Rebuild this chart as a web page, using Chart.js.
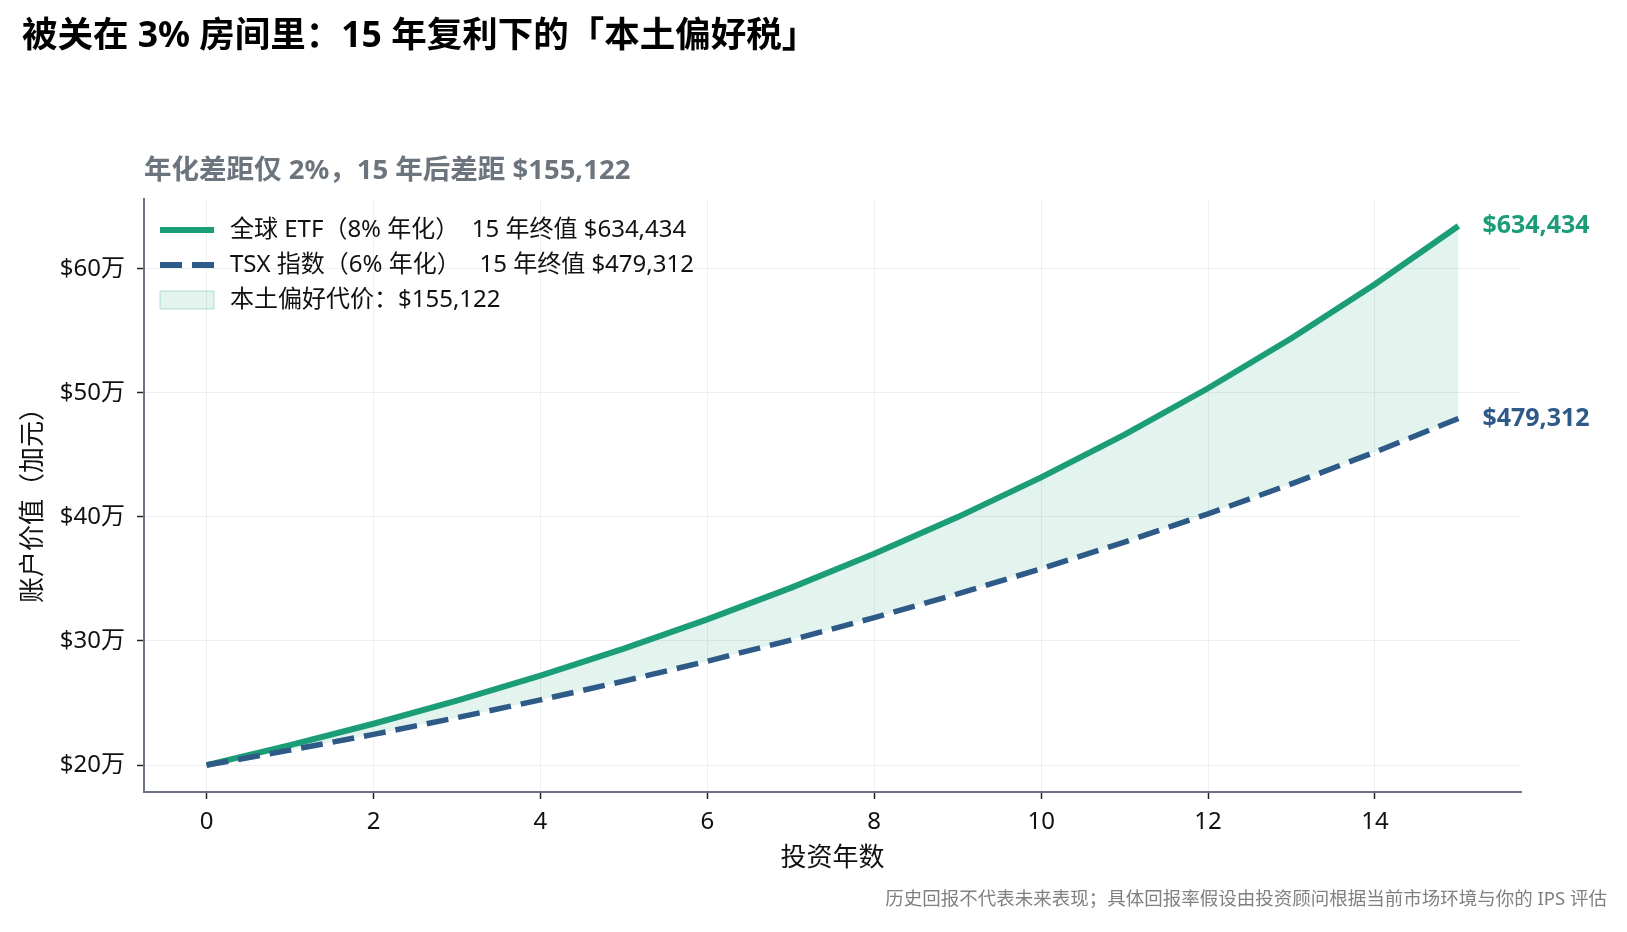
<!DOCTYPE html>
<html>
<head>
<meta charset="utf-8">
<script src="https://cdn.jsdelivr.net/npm/chart.js"></script>
<style>
  body { margin: 0; background: #fff; }
  #wrap { width: 1627px; height: 932px; }
</style>
</head>
<body>
<div id="wrap"><canvas id="chart" width="1627" height="932"></canvas></div>
<script>
// years invested and account value (CAD), start 200,000
const years = [0, 1, 2, 3, 4, 5, 6, 7, 8, 9, 10, 11, 12, 13, 14, 15];
const globalEtf = [200000, 216000, 233280, 251942.4, 272097.8, 293865.6, 317374.9, 342764.9,
  370186.0, 399800.9, 431785.0, 466327.8, 503634.0, 543924.7, 587438.7, 634433.8];
const tsxIndex = [200000, 212000, 224720, 238203.2, 252495.4, 267645.1, 283703.8, 300726.1,
  318769.6, 337895.8, 358169.5, 379659.7, 402439.3, 426585.7, 452180.8, 479311.6];
const xTicks = [0, 2, 4, 6, 8, 10, 12, 14];
const yTicks = [200000, 300000, 400000, 500000, 600000];

const seriesLabels = ['全球 ETF（8% 年化）  15 年终值 $634,434', 'TSX 指数（6% 年化）   15 年终值 $479,312'];
const gapLabel = '本土偏好代价：$155,122';

const GREEN = '#1b9e77';
const BLUE = '#2e5a87';
const FILL = 'rgba(27,158,119,0.12)';
const FONT = '"Noto Sans", "Noto Sans CJK SC", sans-serif';

const fmt = v => '$' + Math.round(v).toLocaleString('en-US');

// white background + all the extra text (title, subtitle, legend, end labels, axis titles)
const decor = {
  id: 'decor',
  beforeDraw(chart) {
    const ctx = chart.ctx;
    ctx.save();
    ctx.fillStyle = '#fff';
    ctx.fillRect(0, 0, chart.width, chart.height);
    ctx.restore();
  },
  afterDraw(chart) {
    const ctx = chart.ctx;
    const area = chart.chartArea;
    ctx.save();
    ctx.textBaseline = 'middle';

    ctx.fillStyle = '#000';
    ctx.font = 'bold 35.5px ' + FONT;
    ctx.fillText('被关在 3% 房间里：15 年复利下的「本土偏好税」', 22, 37);

    ctx.fillStyle = '#6c757d';
    ctx.font = 'bold 27.5px ' + FONT;
    ctx.fillText('年化差距仅 2%，15 年后差距 $155,122', area.left, 171);

    // legend
    const lx0 = 160, lx1 = 214, tx = 230;
    const rows = [230, 265, 300];
    ctx.lineCap = 'butt';
    ctx.strokeStyle = GREEN; ctx.lineWidth = 6;
    ctx.beginPath(); ctx.moveTo(lx0, rows[0]); ctx.lineTo(lx1, rows[0]); ctx.stroke();
    ctx.strokeStyle = BLUE; ctx.setLineDash([22, 10]);
    ctx.beginPath(); ctx.moveTo(lx0, rows[1]); ctx.lineTo(lx1, rows[1]); ctx.stroke();
    ctx.setLineDash([]);
    ctx.fillStyle = FILL; ctx.fillRect(lx0, rows[2] - 9, lx1 - lx0, 18);
    ctx.strokeStyle = 'rgba(27,158,119,0.2)'; ctx.lineWidth = 1.5;
    ctx.strokeRect(lx0, rows[2] - 9, lx1 - lx0, 18);
    ctx.fillStyle = '#111';
    ctx.font = '24px ' + FONT;
    ctx.fillText(seriesLabels[0], tx, rows[0]);
    ctx.fillText(seriesLabels[1], tx, rows[1]);
    ctx.fillText(gapLabel, tx, rows[2]);

    // end-of-line value labels
    ctx.font = 'bold 25px ' + FONT;
    [[0, GREEN], [1, BLUE]].forEach(([i, c]) => {
      const pts = chart.getDatasetMeta(i).data;
      const p = pts[pts.length - 1];
      const d = chart.data.datasets[i].data;
      ctx.fillStyle = c;
      ctx.fillText(fmt(d[d.length - 1].y), p.x + 24, p.y);
    });

    // axis titles
    ctx.fillStyle = '#111';
    ctx.font = '26px ' + FONT;
    ctx.textAlign = 'center';
    ctx.fillText('投资年数', (area.left + area.right) / 2, 859);
    ctx.save();
    ctx.translate(34, 499);
    ctx.rotate(-Math.PI / 2);
    ctx.fillText('账户价值（加元）', 0, 0);
    ctx.restore();

    // footnote
    ctx.fillStyle = '#808080';
    ctx.font = '18.5px ' + FONT;
    ctx.textAlign = 'right';
    ctx.fillText('历史回报不代表未来表现；具体回报率假设由投资顾问根据当前市场环境与你的 IPS 评估', 1607, 900);
    ctx.restore();
  }
};

new Chart(document.getElementById('chart'), {
  type: 'line',
  data: {
    datasets: [
      {
        label: seriesLabels[0],
        data: years.map((x, i) => ({ x: x, y: globalEtf[i] })),
        borderColor: GREEN,
        borderWidth: 6,
        pointRadius: 0,
        tension: 0,
        fill: { target: '+1', above: FILL, below: FILL },
        order: 1
      },
      {
        label: seriesLabels[1],
        data: years.map((x, i) => ({ x: x, y: tsxIndex[i] })),
        borderColor: BLUE,
        borderWidth: 5.5,
        borderDash: [22, 10],
        pointRadius: 0,
        tension: 0,
        fill: false,
        order: 0
      }
    ]
  },
  options: {
    responsive: false,
    animation: false,
    layout: { padding: { top: 199, right: 106, left: 0, bottom: 0 } },
    plugins: {
      legend: { display: false },
      tooltip: { enabled: false }
    },
    scales: {
      x: {
        type: 'linear',
        min: -0.75,
        max: 15.75,
        afterBuildTicks: s => { s.ticks = xTicks.map(v => ({ value: v })); },
        afterFit: s => { s.height = 140; },
        grid: { color: '#eeeff1', lineWidth: 1, tickColor: '#222', tickLength: 7, tickWidth: 1.5 },
        border: { color: '#6b7480', width: 2 },
        ticks: { color: '#111', font: { family: FONT, size: 24 }, padding: 9, maxRotation: 0 }
      },
      y: {
        min: 178278,
        max: 656156,
        afterBuildTicks: s => { s.ticks = yTicks.map(v => ({ value: v })); },
        afterFit: s => { s.width = 144; },
        grid: { color: '#eeeff1', lineWidth: 1, tickColor: '#222', tickLength: 7, tickWidth: 1.5 },
        border: { color: '#6b7480', width: 2 },
        ticks: {
          color: '#111',
          font: { family: FONT, size: 24 },
          padding: 12,
          callback: v => '$' + (v / 10000) + '万'
        }
      }
    }
  },
  plugins: [decor]
});
</script>
</body>
</html>
